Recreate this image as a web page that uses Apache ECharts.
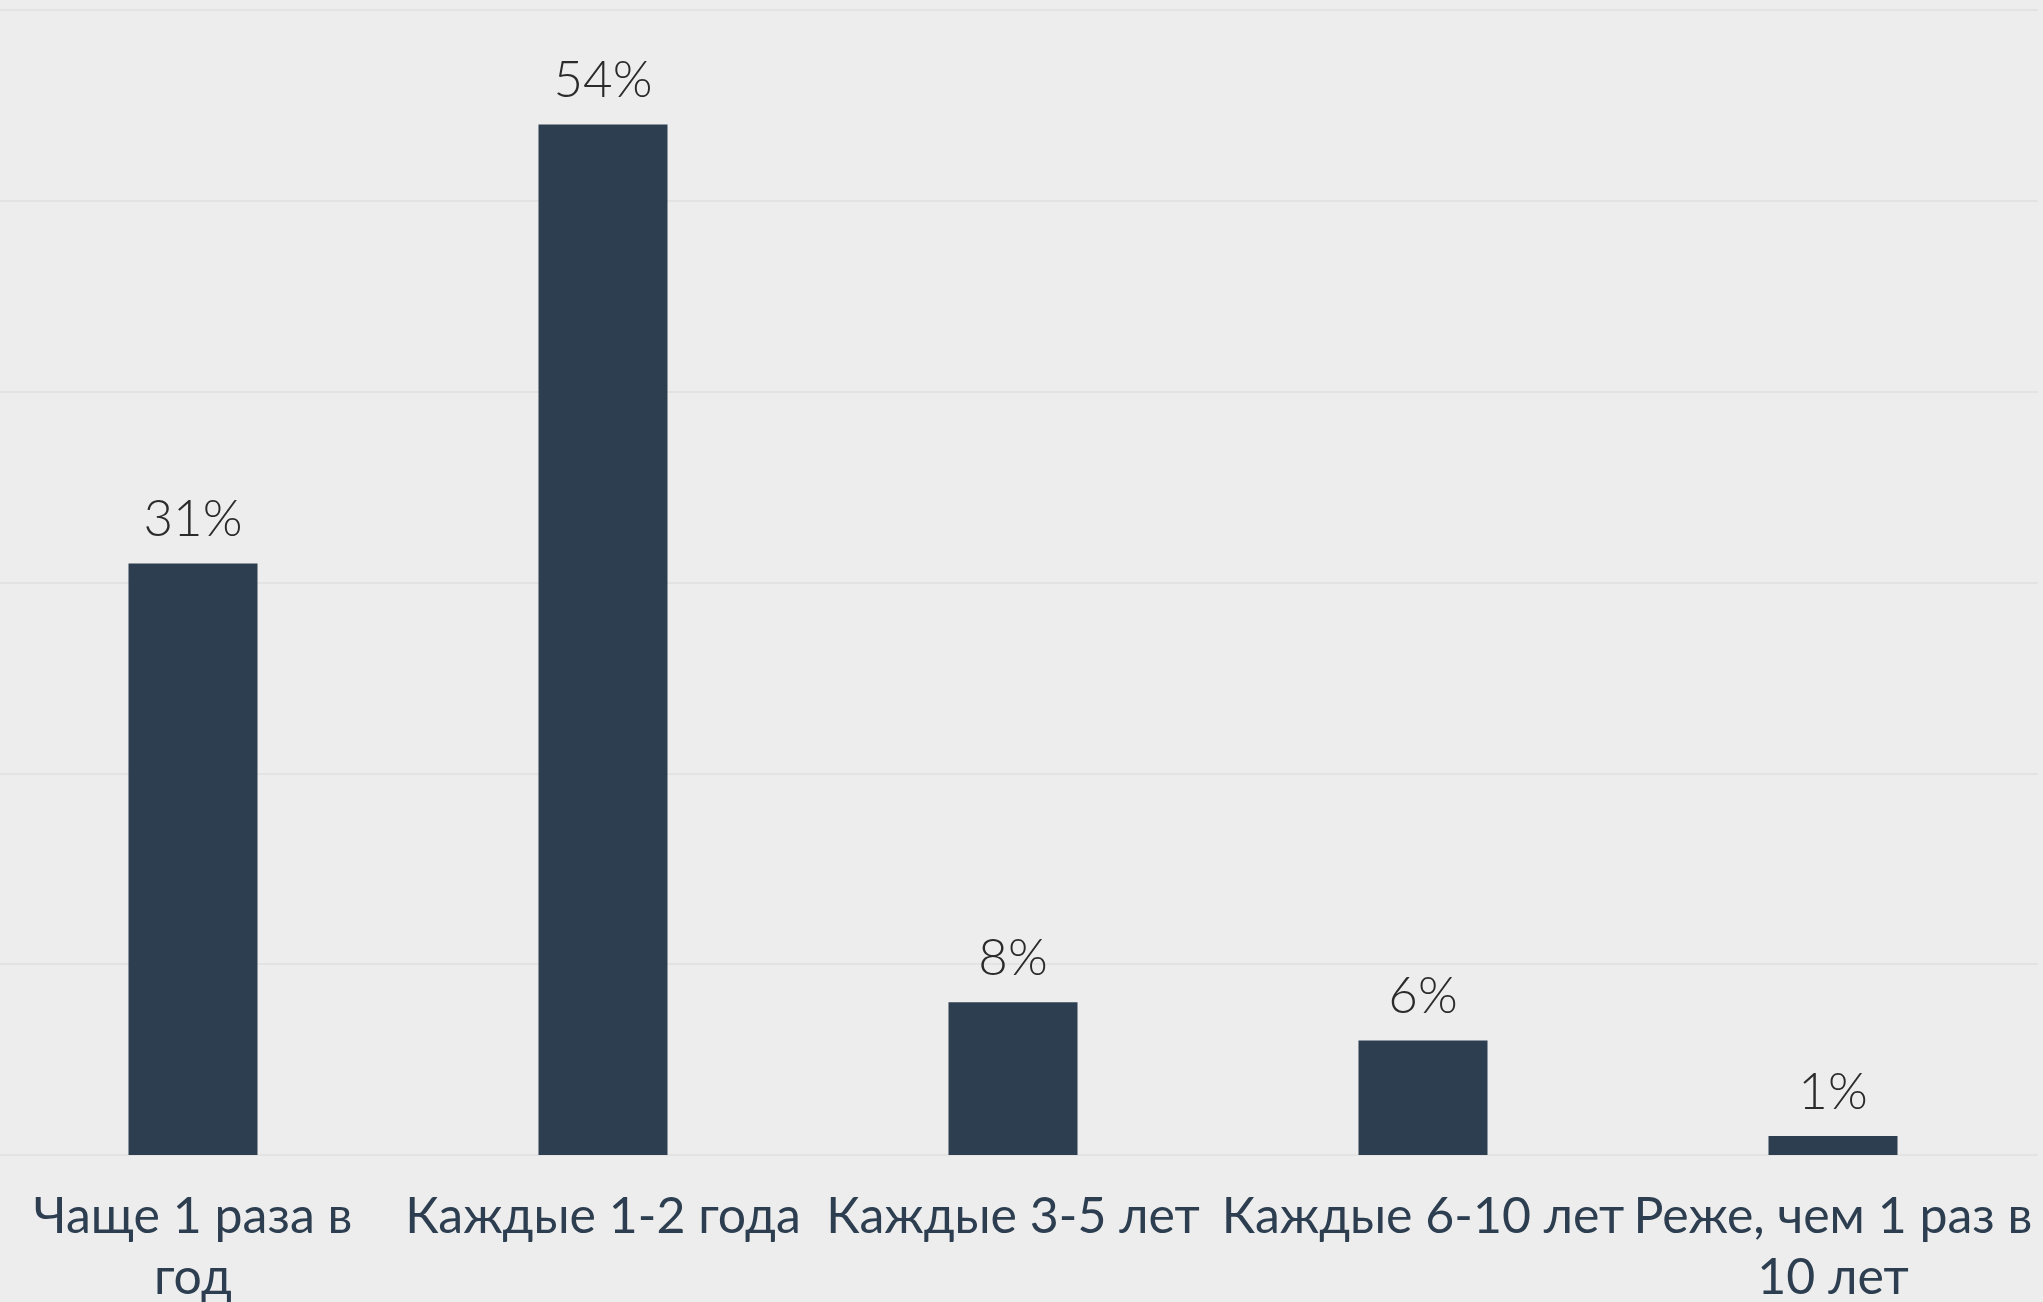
<!DOCTYPE html>
<html>
<head>
<meta charset="utf-8">
<script src="https://cdn.jsdelivr.net/npm/echarts@6/dist/echarts.min.js"></script>
<style>
  html, body { margin: 0; padding: 0; background: #ededed; }
  #chart { width: 2043px; height: 1302px; }
</style>
</head>
<body>
<div id="chart"></div>
<script>
// categories (line breaks as in the picture)
const categories = [
  "Чаще 1 раза в\nгод",
  "Каждые 1-2 года",
  "Каждые 3-5 лет",
  "Каждые 6-10 лет",
  "Реже, чем 1 раз в\n10 лет"
];
// share of answers, %
const shares = [31, 54, 8, 6, 1];

const chart = echarts.init(document.getElementById("chart"));
const font = "Lato, 'Open Sans', sans-serif";

chart.setOption({
  backgroundColor: "#ededed",
  animation: false,
  grid: { left: -12, right: 5, top: 10, bottom: 147, outerBoundsMode: "none" },
  xAxis: {
    type: "category",
    data: categories,
    axisLine: { show: false },
    axisTick: { show: false },
    axisLabel: {
      interval: 0,
      margin: 31,
      color: "#2c3e50",
      fontFamily: font,
      fontSize: 50,
      lineHeight: 61
    }
  },
  yAxis: {
    type: "value",
    min: 0,
    max: 60,
    interval: 10,
    axisLabel: { show: false },
    axisLine: { show: false },
    axisTick: { show: false },
    splitLine: { lineStyle: { color: "#e3e3e3", width: 2 } }
  },
  series: [
    {
      type: "bar",
      data: shares,
      barWidth: 129,
      itemStyle: { color: "#2c3e50" },
      label: {
        show: true,
        position: "top",
        distance: 18,
        formatter: p => p.value + "%",
        color: "#2b2b2b",
        fontFamily: font,
        fontWeight: 300,
        fontSize: 51
      }
    }
  ]
});
</script>
</body>
</html>
